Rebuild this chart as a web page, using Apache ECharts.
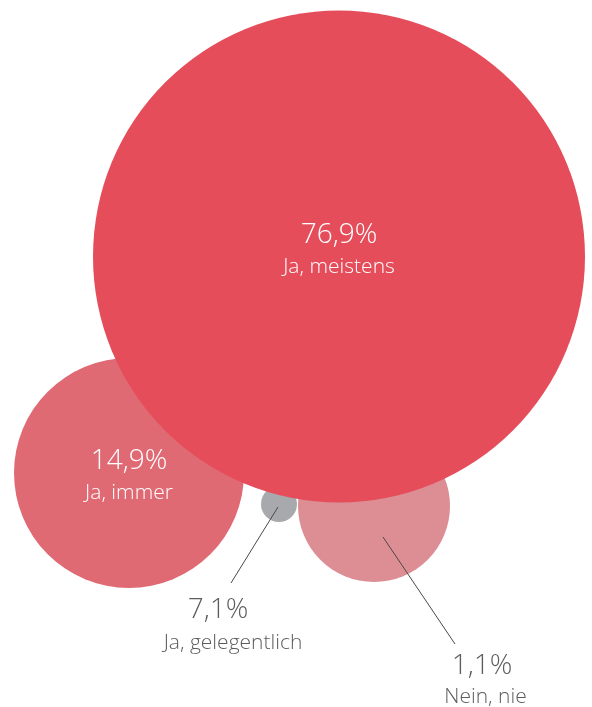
<!DOCTYPE html>
<html>
<head>
<meta charset="utf-8">
<script src="https://cdn.jsdelivr.net/npm/echarts@6/dist/echarts.min.js"></script>
<style>
html,body{margin:0;padding:0;background:#fff;}
#chart{width:592px;height:707px;}
</style>
</head>
<body>
<div id="chart"></div>
<script>
// ---- data ----
var categories = ['Ja, meistens', 'Ja, immer', 'Ja, gelegentlich', 'Nein, nie'];
var values = [76.9, 14.9, 7.1, 1.1];
var valueLabels = ['76,9%', '14,9%', '7,1%', '1,1%'];

// ---- layout (bubble packing, in axis units) ----
var bubbleX = [339, 129, 279, 374];
var bubbleY = [256.5, 473, 504, 506];
var bubbleDiameter = [492, 230, 36, 152];
var bubbleColors = ['#E54D5B', '#E06A74', '#A8A9AC', '#DD8D94'];
var insideLabel = [true, true, false, false];
var insideOffsetY = [-6, 3, 0, 0];
// outside labels: percent and name anchors
var outsidePctX = [0, 0, 218, 482];
var outsidePctY = [0, 0, 610, 666];
var outsideNameX = [0, 0, 233, 485.5];
var outsideNameY = [0, 0, 643, 697];
var leaderFrom = [null, null, [278, 507], [383, 537]];
var leaderTo = [null, null, [231, 583], [455, 644]];

var drawOrder = [1, 3, 2, 0];
var FONT = '"Open Sans", sans-serif';

var bubbleData = drawOrder.map(function (i) {
  return {
    name: categories[i],
    value: [bubbleX[i], bubbleY[i], values[i]],
    symbolSize: bubbleDiameter[i],
    itemStyle: { color: bubbleColors[i], opacity: 1 },
    label: {
      show: insideLabel[i],
      position: 'inside',
      offset: [0, insideOffsetY[i]],
      formatter: '{p|' + valueLabels[i] + '}\n{n|' + categories[i] + '}'
    }
  };
});

var textData = [];
var lineSeries = [];
for (var i = 0; i < categories.length; i++) {
  if (insideLabel[i]) continue;
  textData.push({ value: [outsidePctX[i], outsidePctY[i]], label: { formatter: '{p|' + valueLabels[i] + '}' } });
  textData.push({ value: [outsideNameX[i], outsideNameY[i]], label: { formatter: '{n|' + categories[i] + '}' } });
  lineSeries.push({
    type: 'line',
    data: [leaderFrom[i], leaderTo[i]],
    symbol: 'none',
    silent: true,
    animation: false,
    z: 5,
    lineStyle: { color: '#4a4a4a', width: 1 }
  });
}

var chart = echarts.init(document.getElementById('chart'), null, { renderer: 'canvas' });
chart.setOption({
  backgroundColor: '#ffffff',
  animation: false,
  grid: { left: 0, right: 0, top: 0, bottom: 0 },
  xAxis: { type: 'value', min: 0, max: 592, show: false },
  yAxis: { type: 'value', min: 0, max: 707, inverse: true, show: false },
  series: [{
    type: 'scatter',
    z: 2,
    silent: true,
    data: bubbleData,
    label: {
      color: '#ffffff',
      fontFamily: FONT,
      rich: {
        p: { fontSize: 28, lineHeight: 34, color: '#ffffff', fontFamily: FONT, fontWeight: 300 },
        n: { fontSize: 21, lineHeight: 30, color: '#ffffff', fontFamily: FONT, fontWeight: 300 }
      }
    }
  }, {
    type: 'scatter',
    z: 6,
    silent: true,
    symbolSize: 0,
    data: textData,
    label: {
      show: true,
      position: 'inside',
      fontFamily: FONT,
      rich: {
        p: { fontSize: 28, color: '#333333', fontFamily: FONT, fontWeight: 300 },
        n: { fontSize: 21, color: '#333333', fontFamily: FONT, fontWeight: 300 }
      }
    }
  }].concat(lineSeries)
});
</script>
</body>
</html>
